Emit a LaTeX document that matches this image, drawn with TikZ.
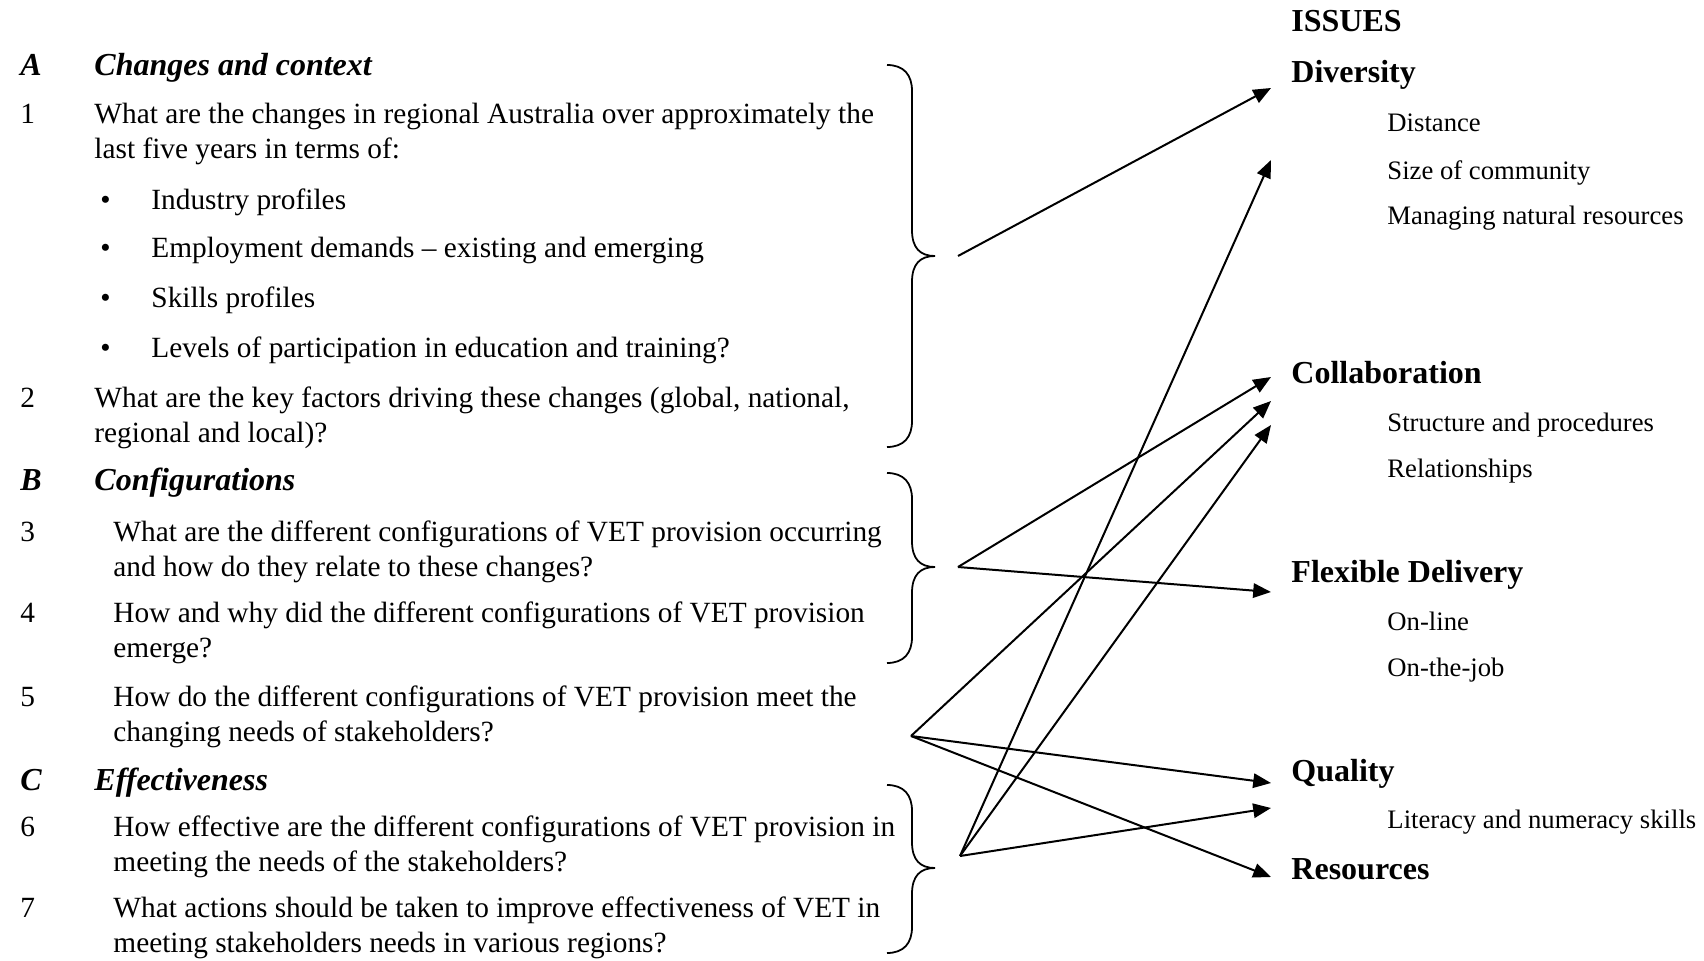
\documentclass[tikz,border=0pt]{standalone}
\usepackage{fontspec}
\setmainfont{Liberation Serif}
\usetikzlibrary{arrows.meta}
\newcommand\drawbrace[3]{%
  \draw[bracestyle] (887,#1) .. controls (904,#1) and (912,#1+10) .. (912,#1+26)
    -- (912,#2-26) .. controls (912,#2-8) and (920,#2) .. (935,#2)
    .. controls (920,#2) and (912,#2+8) .. (912,#2+26)
    -- (912,#3-26) .. controls (912,#3-10) and (904,#3) .. (887,#3);}
\begin{document}
\begin{tikzpicture}[x=0.45pt,y=-0.45pt,
  body/.style={anchor=base west, inner sep=0pt, font=\fontsize{13.2}{15}\selectfont},
  sub/.style={anchor=base west, inner sep=0pt, font=\fontsize{12}{14}\selectfont},
  sect/.style={anchor=base west, inner sep=0pt, font=\fontsize{14.4}{16}\selectfont\bfseries\itshape},
  head/.style={anchor=base west, inner sep=0pt, font=\fontsize{14.4}{16}\selectfont\bfseries},
  arr/.style={-{Triangle[length=8pt,width=6.5pt]}, line width=0.9pt},
  bracestyle/.style={line width=0.8pt}]
\useasboundingbox (0,0) rectangle (1704,961);

% ---- left column ----
\node[sect] (lA) at (20,76) {A};
\node[sect] (hA) at (94,76) {Changes and context};
\node[body] (n1) at (20,124) {1};
\node[body] (q1a) at (94,124) {What are the changes in regional Australia over approximately the};
\node[body] (q1b) at (94,159) {last five years in terms of:};
\node[body] (bu1) at (100,209) {•};
\node[body] (i1) at (151,209) {Industry profiles};
\node[body] (bu2) at (100,257) {•};
\node[body] (i2) at (151,257) {Employment demands – existing and emerging};
\node[body] (bu3) at (100,307) {•};
\node[body] (i3) at (151,307) {Skills profiles};
\node[body] (bu4) at (100,357) {•};
\node[body] (i4) at (151,357) {Levels of participation in education and training?};
\node[body] (n2) at (20,407) {2};
\node[body] (q2a) at (94,407) {What are the key factors driving these changes (global, national,};
\node[body] (q2b) at (94,442) {regional and local)?};

\node[sect] (lB) at (20,490) {B};
\node[sect] (hB) at (94,490) {Configurations};
\node[body] (n3) at (20,541) {3};
\node[body] (q3a) at (113,541) {What are the different configurations of VET provision occurring};
\node[body] (q3b) at (113,576) {and how do they relate to these changes?};
\node[body] (n4) at (20,622) {4};
\node[body] (q4a) at (113,622) {How and why did the different configurations of VET provision};
\node[body] (q4b) at (113,657) {emerge?};
\node[body] (n5) at (20,706) {5};
\node[body] (q5a) at (113,706) {How do the different configurations of VET provision meet the};
\node[body] (q5b) at (113,741) {changing needs of stakeholders?};

\node[sect] (lC) at (20,790) {C};
\node[sect] (hC) at (94,790) {Effectiveness};
\node[body] (n6) at (20,836) {6};
\node[body] (q6a) at (113,836) {How effective are the different configurations of VET provision in};
\node[body] (q6b) at (113,871) {meeting the needs of the stakeholders?};
\node[body] (n7) at (20,917) {7};
\node[body] (q7a) at (113,917) {What actions should be taken to improve effectiveness of VET in};
\node[body] (q7b) at (113,952) {meeting stakeholders needs in various regions?};

% ---- braces ----
\drawbrace{65}{256}{447}
\drawbrace{473}{567}{663}
\drawbrace{785}{868}{953}

% ---- right column ----
\node[head] (iss) at (1291,32) {ISSUES};
\node[head] (div) at (1291,83) {Diversity};
\node[sub] (d1) at (1387,132) {Distance};
\node[sub] (d2) at (1387,179) {Size of community};
\node[sub] (d3) at (1387,225) {Managing natural resources};
\node[head] (col) at (1291,383) {Collaboration};
\node[sub] (c1) at (1387,431) {Structure and procedures};
\node[sub] (c2) at (1387,477) {Relationships};
\node[head] (flex) at (1291,582) {Flexible Delivery};
\node[sub] (f1) at (1387,630) {On-line};
\node[sub] (f2) at (1387,676) {On-the-job};
\node[head] (qual) at (1291,781) {Quality};
\node[sub] (ql1) at (1387,828) {Literacy and numeracy skills};
\node[head] (res) at (1291,879) {Resources};

% ---- connector points ----
\coordinate (sA) at (958,256);
\coordinate (sB) at (958,567);
\coordinate (s5) at (911,736);
\coordinate (sC) at (960,856);
\coordinate (tDiv1) at (1271,88);
\coordinate (tDiv2) at (1271,160);
\coordinate (tCol1) at (1271,377);
\coordinate (tCol2) at (1271,401);
\coordinate (tCol3) at (1271,425);
\coordinate (tFlex) at (1271,592);
\coordinate (tQual1) at (1271,783);
\coordinate (tQual2) at (1271,808);
\coordinate (tRes) at (1271,877);

\draw[arr] (sA) -- (tDiv1);
\draw[arr] (sB) -- (tCol1);
\draw[arr] (sB) -- (tFlex);
\draw[arr] (s5) -- (tCol2);
\draw[arr] (s5) -- (tQual1);
\draw[arr] (s5) -- (tRes);
\draw[arr] (sC) -- (tDiv2);
\draw[arr] (sC) -- (tCol3);
\draw[arr] (sC) -- (tQual2);
\end{tikzpicture}
\end{document}
